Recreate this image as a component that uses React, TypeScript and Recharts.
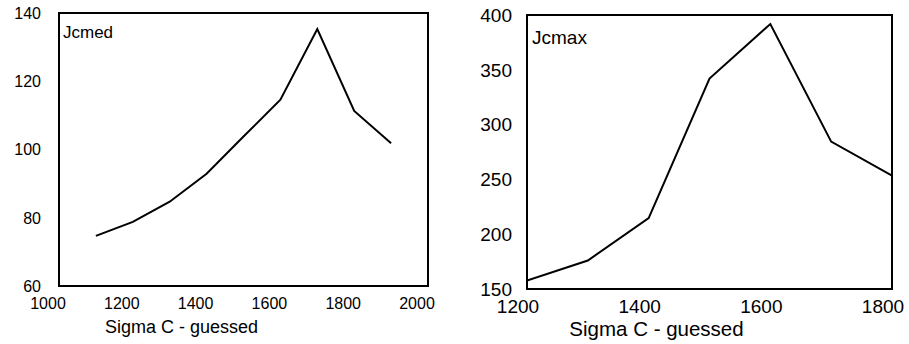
import React from 'react';
import { LineChart, Line, XAxis, YAxis, ReferenceArea, Label } from 'recharts';

const FONT = '"Liberation Sans", Arial, Helvetica, sans-serif';

// Left panel: Jcmed vs Sigma C
const leftSigma = [1100, 1200, 1300, 1400, 1500, 1600, 1700, 1800, 1900];
const leftJcmed = [74.7, 78.8, 84.7, 92.9, 103.8, 114.6, 135.3, 111.3, 101.8];
const leftXTicks = [1000, 1200, 1400, 1600, 1800, 2000];
const leftYTicks = [60, 80, 100, 120, 140];

// Right panel: Jcmax vs Sigma C
const rightSigma = [1200, 1300, 1400, 1500, 1600, 1700, 1800];
const rightJcmax = [157.6, 176, 214.7, 342, 391.8, 284.5, 253.5];
const rightXTicks = [1200, 1400, 1600, 1800];
const rightYTicks = [150, 200, 250, 300, 350, 400];

const xTitle = 'Sigma C - guessed';

type PanelProps = {
  left: number;
  width: number;
  height: number;
  margin: { top: number; right: number; left: number; bottom: number };
  yWidth: number;
  xHeight: number;
  xs: number[];
  ys: number[];
  xTicks: number[];
  yTicks: number[];
  name: string;
  tickFont: number;
  titleFont: number;
  nameFont: number;
  xTickDx: number;
  xTickBase: number;
  yTickGap: number;
  titleDx: number;
  titleBase: number;
  nameDx: number;
  nameBase: number;
};

function Panel(p: PanelProps) {
  const data = p.xs.map((x, i) => ({ x, y: p.ys[i] }));
  const xDom: [number, number] = [p.xTicks[0], p.xTicks[p.xTicks.length - 1]];
  const yDom: [number, number] = [p.yTicks[0], p.yTicks[p.yTicks.length - 1]];

  const XTick = (props: any) => (
    <text
      x={props.x + p.xTickDx}
      y={props.y + p.xTickBase}
      textAnchor="middle"
      fontFamily={FONT}
      fontSize={p.tickFont}
      fill="#000"
    >
      {props.payload.value}
    </text>
  );
  const YTick = (props: any) => (
    <text
      x={props.x - p.yTickGap}
      y={props.y + p.tickFont * 0.36}
      textAnchor="end"
      fontFamily={FONT}
      fontSize={p.tickFont}
      fill="#000"
    >
      {props.payload.value}
    </text>
  );
  const TitleContent = (props: any) => {
    const vb = props.viewBox;
    return (
      <text
        x={vb.x + vb.width / 2 + p.titleDx}
        y={vb.y + p.titleBase}
        textAnchor="middle"
        fontFamily={FONT}
        fontSize={p.titleFont}
        fill="#000"
      >
        {xTitle}
      </text>
    );
  };
  const NameContent = (props: any) => {
    const vb = props.viewBox;
    return (
      <text
        x={vb.x + vb.width + p.nameDx}
        y={vb.y + p.nameBase}
        textAnchor="start"
        fontFamily={FONT}
        fontSize={p.nameFont}
        fill="#000"
      >
        {p.name}
      </text>
    );
  };

  return (
    <div style={{ position: 'absolute', left: p.left, top: 0 }}>
      <LineChart width={p.width} height={p.height} data={data} margin={p.margin}>
        <XAxis
          dataKey="x"
          type="number"
          domain={xDom}
          ticks={p.xTicks}
          allowDataOverflow
          axisLine={false}
          tickLine={false}
          tickSize={0}
          tickMargin={0}
          height={p.xHeight}
          tick={<XTick />}
          interval={0}
        >
          <Label content={<TitleContent />} />
        </XAxis>
        <YAxis
          type="number"
          domain={yDom}
          ticks={p.yTicks}
          allowDataOverflow
          axisLine={false}
          tickLine={false}
          tickSize={0}
          tickMargin={0}
          width={p.yWidth}
          tick={<YTick />}
          interval={0}
        >
          <Label content={<NameContent />} />
        </YAxis>
        <ReferenceArea
          x1={xDom[0]}
          x2={xDom[1]}
          y1={yDom[0]}
          y2={yDom[1]}
          fill="none"
          fillOpacity={0}
          stroke="#000"
          strokeWidth={2}
          ifOverflow="visible"
        />
        <Line
          dataKey="y"
          type="linear"
          stroke="#000"
          strokeWidth={2}
          dot={false}
          activeDot={false}
          isAnimationActive={false}
        />
      </LineChart>
    </div>
  );
}

export default function App() {
  return (
    <div
      style={{
        position: 'absolute',
        left: 0,
        top: 0,
        width: 909,
        height: 344,
        background: '#fff',
        overflow: 'hidden',
      }}
    >
      <Panel
        left={0}
        width={460}
        height={344}
        margin={{ top: 13, right: 32, left: 0, bottom: 0 }}
        yWidth={59}
        xHeight={58}
        xs={leftSigma}
        ys={leftJcmed}
        xTicks={leftXTicks}
        yTicks={leftYTicks}
        name="Jcmed"
        tickFont={16}
        titleFont={18}
        nameFont={17}
        xTickDx={-11}
        xTickBase={23.3}
        yTickGap={18}
        titleDx={-62}
        titleBase={46.5}
        nameDx={4}
        nameBase={24.7}
      />
      <Panel
        left={460}
        width={449}
        height={344}
        margin={{ top: 15, right: 17, left: 0, bottom: 0 }}
        yWidth={67}
        xHeight={55}
        xs={rightSigma}
        ys={rightJcmax}
        xTicks={rightXTicks}
        yTicks={rightYTicks}
        name="Jcmax"
        tickFont={19}
        titleFont={20.5}
        nameFont={19}
        xTickDx={-9}
        xTickBase={24}
        yTickGap={15}
        titleDx={-53}
        titleBase={46.7}
        nameDx={5}
        nameBase={29.3}
      />
    </div>
  );
}
